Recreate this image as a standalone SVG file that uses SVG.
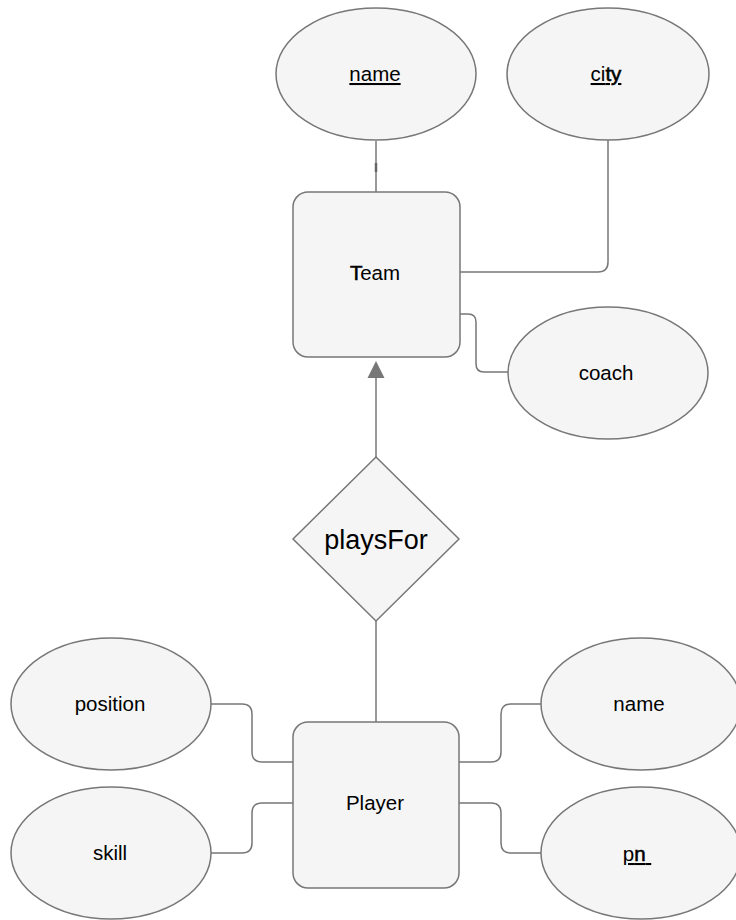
<svg xmlns="http://www.w3.org/2000/svg" width="736" height="920" viewBox="0 0 736 920">
<style>
.n{fill:#f5f5f5;stroke:#777;stroke-width:1.5}
.c{fill:none;stroke:#777;stroke-width:1.5}
text{font-family:"Liberation Sans",Arial,sans-serif;font-size:20.5px;fill:#000;text-anchor:middle}
.u{text-decoration:underline}
.b{stroke:#000;stroke-width:0.6}
</style>
<rect width="736" height="920" fill="#fff"/>
<g id="connectors">
<path class="c" d="M376,141 V192"/>
<path d="M376,163 V172" stroke="#666" stroke-width="2.5"/>
<path class="c" d="M608,140 V262 Q608,272 598,272 H460"/>
<path class="c" d="M460,314 H468 Q476,314 476,322 V364 Q476,372 484,372 H508"/>
<path class="c" d="M376,457 V376"/>
<polygon points="376,361 367.5,378 384.5,378" fill="#777"/>
<path class="c" d="M376,620 V722"/>
<path class="c" d="M211,704 H242 Q252,704 252,714 V752 Q252,762 262,762 H293"/>
<path class="c" d="M211,853 H242 Q252,853 252,843 V813 Q252,803 262,803 H293"/>
<path class="c" d="M459,762 H491 Q501,762 501,752 V714 Q501,704 511,704 H541"/>
<path class="c" d="M459,803 H491 Q501,803 501,813 V843 Q501,853 511,853 H541"/>
</g>
<g id="team-name"><ellipse class="n" cx="376" cy="74" rx="100" ry="66"/><text x="375" y="81" class="u">name</text></g>
<g id="city"><ellipse class="n" cx="608" cy="74" rx="101" ry="66"/><text x="606" y="81" class="u">ci<tspan class="b">ty</tspan></text></g>
<g id="team"><rect class="n" x="293" y="192" width="167" height="165" rx="15"/><text x="375" y="280"><tspan class="b">T</tspan>eam</text></g>
<g id="coach"><ellipse class="n" cx="608" cy="373" rx="100" ry="66"/><text x="606" y="380">coach</text></g>
<g id="playsFor"><polygon class="n" points="376,457 459,539 376,621 293,539"/><text x="376" y="549" style="font-size:27px">playsFor</text></g>
<g id="player"><rect class="n" x="293" y="722" width="166" height="166" rx="15"/><text x="375" y="810">Player</text></g>
<g id="position"><ellipse class="n" cx="111" cy="704" rx="100" ry="66"/><text x="110" y="711">position</text></g>
<g id="skill"><ellipse class="n" cx="111" cy="853" rx="100" ry="66"/><text x="110" y="860">skill</text></g>
<g id="player-name"><ellipse class="n" cx="641" cy="704" rx="100" ry="66"/><text x="639" y="711">name</text></g>
<g id="pn"><ellipse class="n" cx="641" cy="853" rx="100" ry="66"/><text x="637" y="861" class="u">p<tspan class="b">n</tspan>&#160;</text></g>
</svg>
